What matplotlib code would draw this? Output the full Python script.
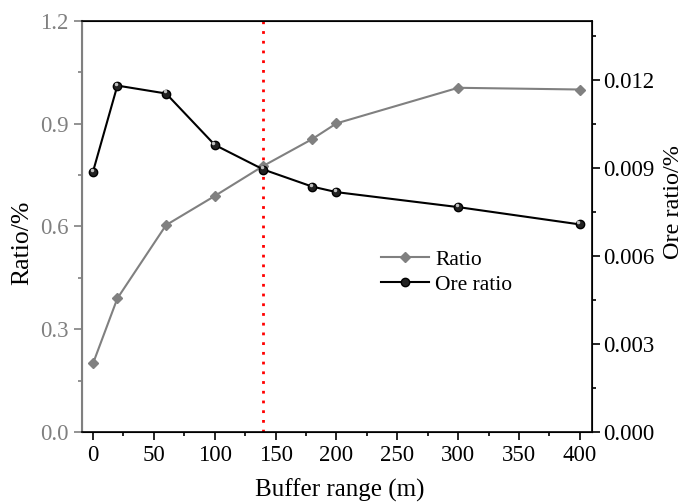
import matplotlib.pyplot as plt
import numpy as np
from matplotlib.ticker import MultipleLocator

plt.rcParams['font.family'] = ['Liberation Serif', 'DejaVu Serif']
plt.rcParams['mathtext.fontset'] = 'stix'

buffer_range = [0, 20, 60, 100, 140, 180, 200, 300, 400]
ratio = [0.20, 0.39, 0.604, 0.689, 0.777, 0.855, 0.901, 1.005, 1.00]
ore_ratio = [0.00887, 0.0118, 0.01153, 0.00978, 0.00894, 0.00836, 0.00817, 0.00766, 0.00707]
cutoff = 140

gray = '#808080'

fig = plt.figure(figsize=(6.84, 5.04), dpi=100)
ax1 = fig.add_axes([0.12, 0.143, 0.7455, 0.8153])
ax2 = ax1.twinx()

l1, = ax1.plot(buffer_range, ratio, '-D', color=gray, lw=1.5, ms=5.5,
               markeredgecolor=gray, label='Ratio')
l2, = ax2.plot(buffer_range, ore_ratio, '-o', color='black', lw=1.5, ms=6,
               markerfacecolor='#222222', markeredgecolor='black', label='Ore ratio')
# little highlight on the ball markers
ax2.plot(np.array(buffer_range) - 1.1, np.array(ore_ratio) + 0.00007, 'o',
         color='#c0c0c0', ms=1.5, zorder=5)
ax1.axvline(cutoff, color='red', ls=(0, (1, 2.5)), lw=2)

ax1.set_xlim(-9, 410)
ax1.set_ylim(0, 1.2)
ax2.set_ylim(0, 0.014)

ax1.xaxis.set_major_locator(MultipleLocator(50))
ax1.xaxis.set_minor_locator(MultipleLocator(25))
ax1.yaxis.set_major_locator(MultipleLocator(0.3))
ax1.yaxis.set_minor_locator(MultipleLocator(0.15))
ax2.yaxis.set_major_locator(MultipleLocator(0.003))
ax2.yaxis.set_minor_locator(MultipleLocator(0.0015))
ax1.yaxis.set_major_formatter(plt.FormatStrFormatter('%.1f'))
ax2.yaxis.set_major_formatter(plt.FormatStrFormatter('%.3f'))

tick_fs = 16.5
ax1.tick_params(axis='x', which='both', direction='out', top=False, labelsize=tick_fs, colors='black')
ax1.tick_params(axis='x', which='major', length=6, width=1.2)
ax1.tick_params(axis='x', which='minor', length=3, width=1.2)
ax1.tick_params(axis='y', which='both', direction='out', colors=gray, labelsize=tick_fs, width=1.2)
ax1.tick_params(axis='y', which='major', length=6)
ax1.tick_params(axis='y', which='minor', length=3)
ax2.tick_params(axis='y', which='both', direction='out', colors='black', labelsize=tick_fs, width=1.2,
                pad=2)
ax2.tick_params(axis='y', which='major', length=6)
ax2.tick_params(axis='y', which='minor', length=3)

for sp in ax2.spines.values():
    sp.set_linewidth(1.2)
ax2.spines['left'].set_color(gray)
ax2.spines['left'].set_linewidth(1.5)
ax1.spines['left'].set_color(gray)

ax1.set_xlabel('Buffer range (m)', fontsize=18)
ax1.set_ylabel('Ratio/%', fontsize=18.5)
ax2.set_ylabel('Ore ratio/%', fontsize=17.5)
ax1.xaxis.set_label_coords(0.505, -0.113)
ax1.yaxis.set_label_coords(-0.096, 0.46)
ax2.yaxis.set_label_coords(1.139, 0.56)

ax2.legend([l1, l2], ['Ratio', 'Ore ratio'], loc='upper left',
           bbox_to_anchor=(0.549, 0.49), frameon=False, fontsize=15.5,
           handlelength=2.2, handletextpad=0.3, labelspacing=0.22)

fig.savefig('out.png', dpi=100)
